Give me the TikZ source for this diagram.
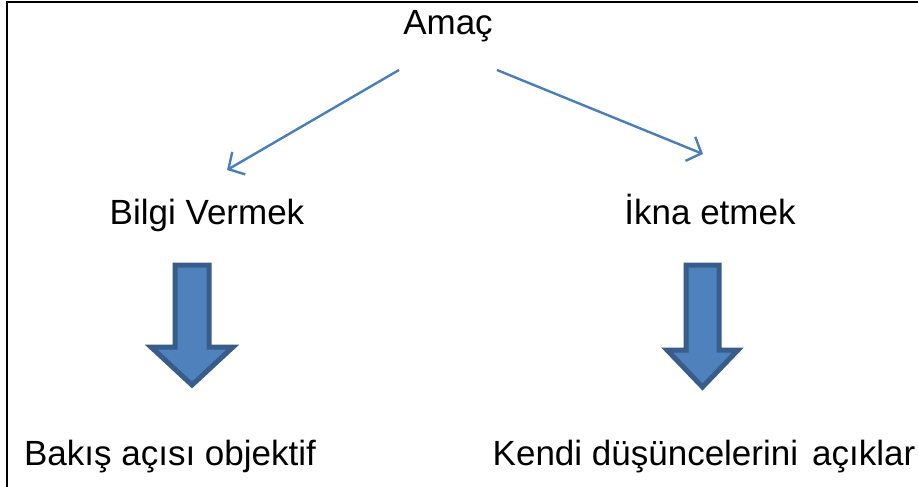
\documentclass[tikz,border=0pt]{standalone}
\usepackage{fontspec}
\setmainfont{Liberation Sans}
\usetikzlibrary{arrows.meta}
\definecolor{lineblue}{HTML}{4A7EBB}
\definecolor{fillblue}{HTML}{4F81BD}
\definecolor{edgeblue}{HTML}{385D8A}
\begin{document}
\begin{tikzpicture}[x=1pt,y=-1pt,
  lbl/.style={inner sep=0pt,anchor=base,font=\fontsize{35}{40}\selectfont},
  thinarrow/.style={draw=lineblue,line width=2.4pt,-{Straight Barb[length=12pt,width=26pt,line width=2.4pt]}},
  blockarrow/.style={fill=fillblue,draw=edgeblue,line width=5pt,miter limit=10}]
\useasboundingbox (0,0) rectangle (918,487);
\fill[white] (0,0) rectangle (918,487);
\draw[line width=2pt] (7,487) -- (7,2.5) -- (918,2.5);
% labels
\node[lbl] (amac) at (448,35) {Amaç};
\node[lbl] (bilgi) at (207,224) {Bilgi Vermek};
\node[lbl] (ikna) at (710,224) {İkna etmek};
\node[lbl] (bakis) at (170,465) {Bakış açısı objektif};
\node[lbl] (kendi) at (704,465) {Kendi düşüncelerini\hspace{14pt}açıklar};
% thin arrows
\coordinate (a1) at (399,70);
\coordinate (b1) at (227,170);
\coordinate (a2) at (497,70);
\coordinate (c2) at (703,154);
\draw[thinarrow] (a1) -- (b1);
\draw[thinarrow] (a2) -- (c2);
% block arrows
\draw[blockarrow] (175,265) -- (209,265) -- (209,347) -- (233,347) -- (192,385) -- (151,347) -- (175,347) -- cycle;
\draw[blockarrow] (686,265) -- (719,265) -- (719,350) -- (738,350) -- (702.5,387) -- (667,350) -- (686,350) -- cycle;
\end{tikzpicture}
\end{document}
